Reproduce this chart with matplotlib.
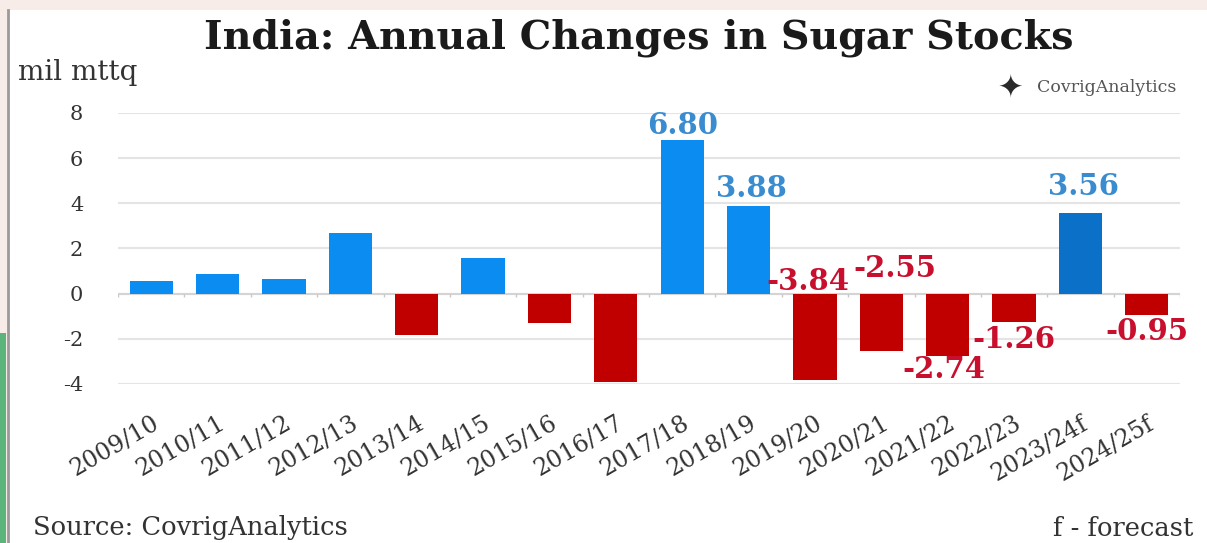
import numpy as np
import matplotlib.pyplot as plt
from matplotlib.patches import Rectangle

plt.rcParams['font.family'] = ['DejaVu Serif']
plt.rcParams['axes.unicode_minus'] = False

seasons = ['2009/10', '2010/11', '2011/12', '2012/13', '2013/14', '2014/15',
           '2015/16', '2016/17', '2017/18', '2018/19', '2019/20', '2020/21',
           '2021/22', '2022/23', '2023/24f', '2024/25f']
changes = [0.58, 0.88, 0.65, 2.68, -1.82, 1.58, -1.30, -3.92,
           6.80, 3.88, -3.84, -2.55, -2.74, -1.26, 3.56, -0.95]
forecast = [False] * 14 + [True, True]

# labelled bars: index -> (x offset, y position) for the value text
labelled = {8: (0.0, 7.45), 9: (0.05, 4.65), 10: (-0.1, 0.55), 11: (0.2, 1.1),
            12: (-0.05, -3.35), 13: (0.0, -2.05), 14: (0.05, 4.75), 15: (0.0, -1.68)}

BLUE = '#0a8cf0'
BLUE_F = '#0a70c8'
RED = '#c00000'
BLUE_TXT = '#3a8cd0'
RED_TXT = '#c8102e'

fig = plt.figure(figsize=(12.07, 5.43), dpi=100)
fig.patch.set_facecolor('#f7ece8')
W, H = 1207, 543
# white panel with a thin grey left edge
fig.patches.append(Rectangle((8 / W, 0), 1 - 8 / W, 1 - 10 / H, transform=fig.transFigure,
                             facecolor='white', edgecolor='none', zorder=-2))
fig.patches.append(Rectangle((0, 0), 6 / W, 210 / H, transform=fig.transFigure,
                             facecolor='#5cb47a', edgecolor='none', zorder=-2))
fig.lines.append(plt.Line2D([8 / W, 8 / W], [0, 1 - 10 / H], transform=fig.transFigure,
                            color='#9a9a9a', lw=2, zorder=-1))

ax = fig.add_axes([118 / W, 1 - 384 / H, 1062 / W, 271 / H])
ax.set_facecolor('none')
x = np.arange(len(seasons))
colors = [(BLUE_F if f else BLUE) if v > 0 else RED for v, f in zip(changes, forecast)]
ax.bar(x, changes, width=0.65, color=colors, zorder=3)

ax.set_xlim(-0.5, len(seasons) - 0.5)
ax.set_ylim(-4, 8)
ax.set_yticks(np.arange(-4, 9, 2))
ax.grid(axis='y', color='#e4e4e4', lw=1.5, zorder=0)
for s in ax.spines.values():
    s.set_visible(False)

# zero line with category separators
ax.axhline(0, color='#d4d4d4', lw=1.5, zorder=2)
ax.vlines(np.arange(-0.5, len(seasons)), -0.15, 0, color='#c8c8c8', lw=1, zorder=2)

ax.tick_params(axis='y', length=0, pad=25, labelsize=15, labelcolor='#333333')
ax.set_xticks(x)
ax.set_xticklabels(seasons, rotation=30, ha='right', rotation_mode='anchor',
                   fontsize=17, color='#333333')
ax.tick_params(axis='x', length=0, pad=20)

for i, (dx, ty) in labelled.items():
    v = changes[i]
    ax.text(i + dx, ty, f'{v:.2f}', ha='center', va='center', fontsize=21,
            fontweight='bold', color=BLUE_TXT if v > 0 else RED_TXT, zorder=4)

fig.text(639 / W, 1 - 38 / H, 'India: Annual Changes in Sugar Stocks', ha='center',
         va='center', fontsize=28.5, fontweight='bold', color='#1a1a1a')
fig.text(18 / W, 1 - 73 / H, 'mil mttq', ha='left', va='center', fontsize=20,
         color='#333333')
fig.text(33 / W, 1 - 528 / H, 'Source: CovrigAnalytics', ha='left', va='center',
         fontsize=18.5, color='#333333')
fig.text(1193 / W, 1 - 528 / H, 'f - forecast', ha='right', va='center',
         fontsize=18.5, color='#333333')

# logo
fig.text(1010 / W, 1 - 88 / H, '\u2726', ha='center', va='center', fontsize=22,
         color='#2a2a2a', family='DejaVu Sans')
fig.text(1037 / W, 1 - 88 / H, 'CovrigAnalytics', ha='left', va='center',
         fontsize=12.5, color='#555555')

fig.savefig('out.png', dpi=100, facecolor=fig.get_facecolor())
